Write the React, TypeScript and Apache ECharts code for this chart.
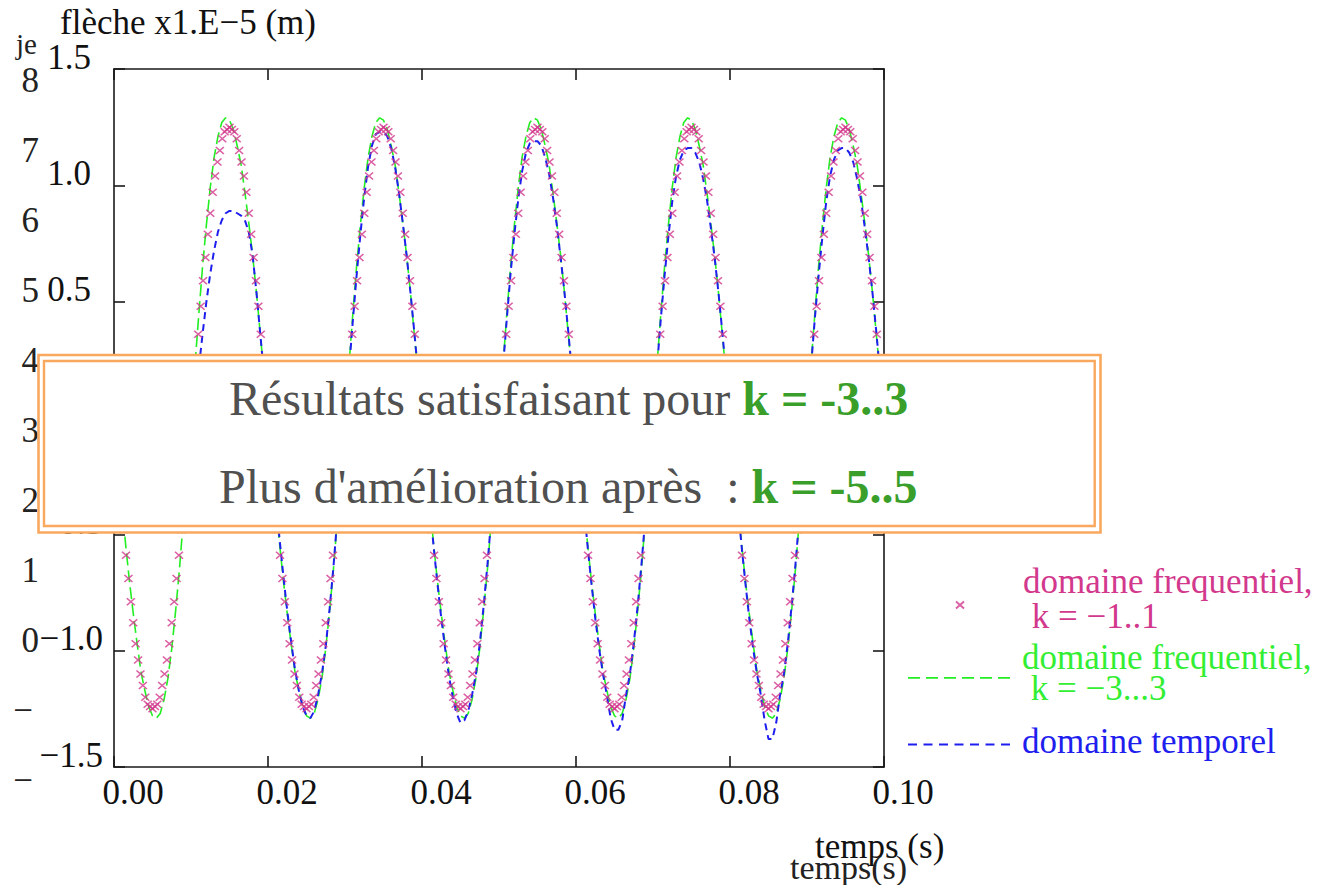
import React, { useEffect, useRef } from "react";
import * as echarts from "echarts";

// ---------- DATA ----------
// sampling steps (s) of the curves
const LINE_STEP = 0.0005;
const MARKER_STEP = 0.0003125;

// domaine frequentiel, k = -3...3 (green dashed line), x1.E-5 m
const GREEN_K3 = [
  0, -0.18, -0.36, -0.54, -0.70, -0.84, -0.97, -1.09, -1.17, -1.24, -1.28, -1.29, -1.27, -1.21, -1.12, -0.99, -0.83, -0.65, -0.44, -0.22, 0, 0.22, 0.44, 0.65, 0.83, 0.99, 1.12, 1.21, 1.27, 1.29, 1.28, 1.24, 1.17, 1.09, 0.97, 0.84, 0.70, 0.54, 0.36, 0.18,
  0, -0.18, -0.36, -0.54, -0.70, -0.84, -0.97, -1.09, -1.17, -1.24, -1.28, -1.29, -1.27, -1.21, -1.12, -0.99, -0.83, -0.65, -0.44, -0.22, 0, 0.22, 0.44, 0.65, 0.83, 0.99, 1.12, 1.21, 1.27, 1.29, 1.28, 1.24, 1.17, 1.09, 0.97, 0.84, 0.70, 0.54, 0.36, 0.18,
  0, -0.18, -0.36, -0.54, -0.70, -0.84, -0.97, -1.09, -1.17, -1.24, -1.28, -1.29, -1.27, -1.21, -1.12, -0.99, -0.83, -0.65, -0.44, -0.22, 0, 0.22, 0.44, 0.65, 0.83, 0.99, 1.12, 1.21, 1.27, 1.29, 1.28, 1.24, 1.17, 1.09, 0.97, 0.84, 0.70, 0.54, 0.36, 0.18,
  0, -0.18, -0.36, -0.54, -0.70, -0.84, -0.97, -1.09, -1.17, -1.24, -1.28, -1.29, -1.27, -1.21, -1.12, -0.99, -0.83, -0.65, -0.44, -0.22, 0, 0.22, 0.44, 0.65, 0.83, 0.99, 1.12, 1.21, 1.27, 1.29, 1.28, 1.24, 1.17, 1.09, 0.97, 0.84, 0.70, 0.54, 0.36, 0.18,
  0, -0.18, -0.36, -0.54, -0.70, -0.84, -0.97, -1.09, -1.17, -1.24, -1.28, -1.29, -1.27, -1.21, -1.12, -0.99, -0.83, -0.65, -0.44, -0.22, 0, 0.22, 0.44, 0.65, 0.83, 0.99, 1.12, 1.21, 1.27, 1.29, 1.28, 1.24, 1.17, 1.09, 0.97, 0.84, 0.70, 0.54, 0.36, 0.18,
  0,
];

// domaine temporel (blue dashed line)
const BLUE_TEMPOREL = [
  0, -0.02, -0.06, -0.10, -0.15, -0.20, -0.25, -0.28, -0.30, -0.30, -0.28, -0.25, -0.22, -0.20, -0.19, -0.18, -0.16, -0.13, -0.09, -0.04, 0.02, 0.08, 0.21, 0.36, 0.50, 0.62, 0.72, 0.80, 0.85, 0.88, 0.89, 0.89, 0.88, 0.87, 0.85, 0.80, 0.70, 0.54, 0.36, 0.18,
  0, -0.17, -0.35, -0.52, -0.68, -0.83, -0.96, -1.08, -1.17, -1.24, -1.28, -1.29, -1.26, -1.19, -1.10, -0.98, -0.82, -0.64, -0.43, -0.21, 0, 0.20, 0.41, 0.61, 0.79, 0.95, 1.08, 1.17, 1.22, 1.23, 1.23, 1.21, 1.16, 1.08, 0.97, 0.84, 0.70, 0.54, 0.37, 0.19,
  0, -0.18, -0.37, -0.55, -0.71, -0.86, -0.99, -1.11, -1.20, -1.27, -1.31, -1.30, -1.26, -1.19, -1.10, -0.97, -0.81, -0.63, -0.43, -0.21, 0, 0.21, 0.42, 0.62, 0.79, 0.94, 1.06, 1.14, 1.18, 1.19, 1.19, 1.17, 1.12, 1.05, 0.95, 0.83, 0.69, 0.54, 0.37, 0.19,
  0, -0.18, -0.37, -0.55, -0.71, -0.86, -0.99, -1.10, -1.19, -1.29, -1.34, -1.34, -1.30, -1.19, -1.10, -0.97, -0.81, -0.63, -0.43, -0.21, 0, 0.21, 0.42, 0.61, 0.78, 0.93, 1.04, 1.11, 1.15, 1.16, 1.16, 1.14, 1.10, 1.03, 0.94, 0.82, 0.69, 0.54, 0.37, 0.19,
  0, -0.18, -0.37, -0.55, -0.71, -0.86, -0.99, -1.10, -1.19, -1.30, -1.38, -1.38, -1.31, -1.19, -1.10, -0.97, -0.81, -0.63, -0.43, -0.21, 0, 0.21, 0.42, 0.61, 0.78, 0.93, 1.04, 1.11, 1.15, 1.16, 1.16, 1.14, 1.10, 1.03, 0.94, 0.82, 0.69, 0.54, 0.37, 0.19,
  0,
];

// domaine frequentiel, k = -1..1 (magenta "x" markers)
const MAGENTA_K1 = [
  0, -0.12, -0.24, -0.36, -0.48, -0.59, -0.69, -0.79, -0.88, -0.97, -1.04, -1.10, -1.15, -1.20, -1.23, -1.24, -1.25, -1.24, -1.23, -1.20, -1.15, -1.10, -1.04, -0.97, -0.88, -0.79, -0.69, -0.59, -0.48, -0.36, -0.24, -0.12, 0, 0.12, 0.24, 0.36, 0.48, 0.59, 0.69, 0.79, 0.88, 0.97, 1.04, 1.10, 1.15, 1.20, 1.23, 1.24, 1.25, 1.24, 1.23, 1.20, 1.15, 1.10, 1.04, 0.97, 0.88, 0.79, 0.69, 0.59, 0.48, 0.36, 0.24, 0.12,
  0, -0.12, -0.24, -0.36, -0.48, -0.59, -0.69, -0.79, -0.88, -0.97, -1.04, -1.10, -1.15, -1.20, -1.23, -1.24, -1.25, -1.24, -1.23, -1.20, -1.15, -1.10, -1.04, -0.97, -0.88, -0.79, -0.69, -0.59, -0.48, -0.36, -0.24, -0.12, 0, 0.12, 0.24, 0.36, 0.48, 0.59, 0.69, 0.79, 0.88, 0.97, 1.04, 1.10, 1.15, 1.20, 1.23, 1.24, 1.25, 1.24, 1.23, 1.20, 1.15, 1.10, 1.04, 0.97, 0.88, 0.79, 0.69, 0.59, 0.48, 0.36, 0.24, 0.12,
  0, -0.12, -0.24, -0.36, -0.48, -0.59, -0.69, -0.79, -0.88, -0.97, -1.04, -1.10, -1.15, -1.20, -1.23, -1.24, -1.25, -1.24, -1.23, -1.20, -1.15, -1.10, -1.04, -0.97, -0.88, -0.79, -0.69, -0.59, -0.48, -0.36, -0.24, -0.12, 0, 0.12, 0.24, 0.36, 0.48, 0.59, 0.69, 0.79, 0.88, 0.97, 1.04, 1.10, 1.15, 1.20, 1.23, 1.24, 1.25, 1.24, 1.23, 1.20, 1.15, 1.10, 1.04, 0.97, 0.88, 0.79, 0.69, 0.59, 0.48, 0.36, 0.24, 0.12,
  0, -0.12, -0.24, -0.36, -0.48, -0.59, -0.69, -0.79, -0.88, -0.97, -1.04, -1.10, -1.15, -1.20, -1.23, -1.24, -1.25, -1.24, -1.23, -1.20, -1.15, -1.10, -1.04, -0.97, -0.88, -0.79, -0.69, -0.59, -0.48, -0.36, -0.24, -0.12, 0, 0.12, 0.24, 0.36, 0.48, 0.59, 0.69, 0.79, 0.88, 0.97, 1.04, 1.10, 1.15, 1.20, 1.23, 1.24, 1.25, 1.24, 1.23, 1.20, 1.15, 1.10, 1.04, 0.97, 0.88, 0.79, 0.69, 0.59, 0.48, 0.36, 0.24, 0.12,
  0, -0.12, -0.24, -0.36, -0.48, -0.59, -0.69, -0.79, -0.88, -0.97, -1.04, -1.10, -1.15, -1.20, -1.23, -1.24, -1.25, -1.24, -1.23, -1.20, -1.15, -1.10, -1.04, -0.97, -0.88, -0.79, -0.69, -0.59, -0.48, -0.36, -0.24, -0.12, 0, 0.12, 0.24, 0.36, 0.48, 0.59, 0.69, 0.79, 0.88, 0.97, 1.04, 1.10, 1.15, 1.20, 1.23, 1.24, 1.25, 1.24, 1.23, 1.20, 1.15, 1.10, 1.04, 0.97, 0.88, 0.79, 0.69, 0.59, 0.48, 0.36, 0.24, 0.12,
  0,
];

// tick labels
const X_TICKS = [0, 0.02, 0.04, 0.06, 0.08, 0.1];
const X_TICK_LABELS = ["0.00", "0.02", "0.04", "0.06", "0.08", "0.10"];
const Y_TICKS = [-1.5, -1.0, -0.5, 0, 0.5, 1.0, 1.5];
const Y_TICK_LABELS = ["\u22121.5", "\u22121.0", "\u22120.5", "0.0", "0.5", "1.0", "1.5"];
// labels of the partly covered axis of the slide underneath
const GHOST_TICKS = [-2, -1, 0, 1, 2, 3, 4, 5, 6, 7, 8];
const GHOST_TICK_LABELS = ["\u2212", "\u2212", "0", "1", "2", "3", "4", "5", "6", "7", "8"];

// texts
const NAME_MAG = "domaine frequentiel,\n k = \u22121..1";
const NAME_GREEN = "domaine frequentiel,\n k = \u22123...3";
const NAME_BLUE = "domaine temporel";
const Y_NAME = "fl\u00e8che x1.E\u22125 (m)";
const X_NAME = "temps (s)";
const X_NAME_GHOST = "temps(s)";
const BOX_LINE1 = ["R\u00e9sultats satisfaisant pour ", "k = -3..3"];
const BOX_LINE2 = ["Plus d'am\u00e9lioration apr\u00e8s  : ", "k = -5..5"];

// ---------- STYLE ----------
const FONT = "Liberation Serif";
const C_MAG = "#d2388c";
const C_GREEN = "#22ee22";
const C_GREEN_TXT = "#33ee33";
const C_BLUE = "#1e1eee";
const C_AXIS = "#1a1a1a";
const C_ORANGE = "#f9a85e";
const C_BOX_TXT = "#505050";
const C_BOX_K = "#3a9f2a";

// legend icons (pure styling): dashes as thin rectangles, offset inside their box
function dashIcon(starts: number[], len: number, y: number, th: number, w: number, h: number): string {
  let d = "path://M0,0L0,0M" + w + "," + h + "L" + w + "," + h;
  for (const s of starts) {
    d += "M" + s + "," + y + "L" + (s + len) + "," + y + "L" + (s + len) + "," + (y + th) + "L" + s + "," + (y + th) + "Z";
  }
  return d;
}
const ICON_MAG = "path://M0,0L0,0M0,12L8,19M8,12L0,19";
const ICON_GREEN = dashIcon([0, 18, 36, 54, 72, 90], 12, 12, 1.7, 102, 16);
const ICON_BLUE = dashIcon([0, 15.5, 31, 46.5, 62, 77.5, 93], 9, 10, 2, 102, 16);

function lookup(ticks: number[], labels: string[], v: number): string {
  for (let i = 0; i < ticks.length; i++) {
    if (Math.abs(ticks[i] - v) < 1e-6) return labels[i];
  }
  return "";
}

function measure(text: string, weight: string, size: number): number {
  const c = document.createElement("canvas").getContext("2d");
  if (!c) return text.length * size * 0.45;
  c.font = weight + " " + size + "px '" + FONT + "'";
  return c.measureText(text).width;
}

function textEl(text: string, x: number, y: number, size: number, fill: string): any {
  return {
    type: "text",
    z: 50,
    x,
    y,
    style: { text, fontFamily: FONT, fontSize: size, fill, align: "left", verticalAlign: "middle" },
  };
}

// the two lines written over the chart, as title components (rich text)
function boxTitle(parts: string[], cx: number, cy: number): any {
  const w = measure(parts[0], "normal", 48) + measure(parts[1], "bold", 48);
  return {
    text: "{a|" + parts[0] + "}{b|" + parts[1] + "}",
    left: Math.round(cx - w / 2),
    top: cy - 24,
    padding: 0,
    z: 120,
    zlevel: 0,
    textStyle: {
      fontFamily: FONT,
      fontSize: 48,
      lineHeight: 48,
      rich: {
        a: { fontFamily: FONT, fontSize: 48, lineHeight: 48, fontWeight: "normal", color: C_BOX_TXT },
        b: { fontFamily: FONT, fontSize: 48, lineHeight: 48, fontWeight: "bold", color: C_BOX_K },
      },
    },
  };
}

export default function App() {
  const ref = useRef<HTMLDivElement>(null);

  useEffect(() => {
    if (!ref.current) return;
    const chart = echarts.init(ref.current, undefined, { renderer: "svg" });

    const greenData = GREEN_K3.map((v, i) => [i * LINE_STEP, v]);
    const blueData = BLUE_TEMPOREL.map((v, i) => [i * LINE_STEP, v]);
    const magData = MAGENTA_K1.map((v, i) => [i * MARKER_STEP, v]);

    const axisLine = { show: true, onZero: false, lineStyle: { color: C_AXIS, width: 1.6 } };
    const axisTick = { show: true, inside: true, length: 11, lineStyle: { color: C_AXIS, width: 1.6 } };

    const option: any = {
      animation: false,
      backgroundColor: "#ffffff",
      title: [boxTitle(BOX_LINE1, 569, 398), boxTitle(BOX_LINE2, 568, 486)],
      grid: [
        { left: 114, right: 450, top: 69, bottom: 118, containLabel: false },
        { left: 48, right: 300, top: 80, bottom: 105, containLabel: false },
      ],
      xAxis: [
        {
          gridIndex: 0,
          type: "value",
          position: "bottom",
          min: 0,
          max: 0.1,
          interval: 0.02,
          axisLine,
          axisTick,
          splitLine: { show: false },
          axisLabel: {
            fontFamily: FONT,
            fontSize: 35,
            color: "#111",
            margin: 8,
            padding: [0, 0, 0, 38],
            formatter: (v: number) => lookup(X_TICKS, X_TICK_LABELS, v),
          },
        },
        {
          gridIndex: 0,
          type: "value",
          position: "top",
          min: 0,
          max: 0.1,
          interval: 0.02,
          axisLine,
          axisTick,
          splitLine: { show: false },
          axisLabel: { show: false },
        },
        {
          gridIndex: 1,
          type: "value",
          min: 0,
          max: 1,
          show: false,
        },
      ],
      yAxis: [
        {
          gridIndex: 0,
          type: "value",
          position: "left",
          min: -1.5,
          max: 1.5,
          interval: 0.5,
          axisLine,
          axisTick,
          splitLine: { show: false },
          axisLabel: {
            fontFamily: FONT,
            fontSize: 35,
            color: "#111",
            margin: 11,
            padding: [0, 0, 24, 0],
            formatter: (v: number) => {
              const s = lookup(Y_TICKS, Y_TICK_LABELS, v);
              return v < -1e-9 ? "{n|" + s + "}" : "{p|" + s + "}";
            },
            rich: {
              p: { fontFamily: FONT, fontSize: 35, color: "#111", padding: [0, 12, 0, 0] },
              n: { fontFamily: FONT, fontSize: 35, color: "#111" },
            },
          },
          name: Y_NAME,
          nameLocation: "end",
          nameGap: 47,
          nameTextStyle: {
            fontFamily: FONT,
            fontSize: 35,
            color: "#111",
            align: "center",
            verticalAlign: "middle",
            padding: [0, 0, 0, 148],
          },
        },
        {
          gridIndex: 0,
          type: "value",
          position: "right",
          min: -1.5,
          max: 1.5,
          interval: 0.5,
          axisLine,
          axisTick,
          splitLine: { show: false },
          axisLabel: { show: false },
        },
        {
          gridIndex: 1,
          type: "value",
          position: "left",
          min: -2,
          max: 8,
          interval: 1,
          axisLine: { show: false },
          axisTick: { show: false },
          splitLine: { show: false },
          axisLabel: {
            fontFamily: FONT,
            fontSize: 35,
            color: "#222",
            margin: 9,
            formatter: (v: number) => {
              const s = lookup(GHOST_TICKS, GHOST_TICK_LABELS, v);
              return v < 0 ? "{n|" + s + "}" : "{p|" + s + "}";
            },
            rich: {
              p: { fontFamily: FONT, fontSize: 35, color: "#222" },
              n: { fontFamily: FONT, fontSize: 35, color: "#222", padding: [0, 6, 0, 0] },
            },
          },
        },
      ],
      legend: [
        {
          data: [{ name: NAME_MAG }],
          icon: ICON_MAG,
          left: 955,
          top: 564,
          padding: 0,
          itemWidth: 8,
          itemHeight: 19,
          selectedMode: false,
          textStyle: {
            fontFamily: FONT,
            fontSize: 35,
            lineHeight: 35,
            color: C_MAG,
            padding: [0, 0, 0, 54],
          },
        },
        {
          data: [{ name: NAME_GREEN }],
          icon: ICON_GREEN,
          left: 908,
          top: 640,
          padding: 0,
          itemWidth: 102,
          itemHeight: 16,
          selectedMode: false,
          itemStyle: { color: C_GREEN, borderWidth: 0 },
          textStyle: {
            fontFamily: FONT,
            fontSize: 35,
            lineHeight: 31,
            color: C_GREEN_TXT,
            padding: [0, 0, 0, 7],
          },
        },
        {
          data: [{ name: NAME_BLUE }],
          icon: ICON_BLUE,
          left: 908,
          top: 724,
          padding: 0,
          itemWidth: 102,
          itemHeight: 16,
          selectedMode: false,
          itemStyle: { color: C_BLUE, borderWidth: 0 },
          textStyle: {
            fontFamily: FONT,
            fontSize: 35,
            lineHeight: 34,
            color: C_BLUE,
            padding: [0, 0, 0, 7],
          },
        },
      ],
      series: [
        {
          name: NAME_GREEN,
          type: "line",
          xAxisIndex: 0,
          yAxisIndex: 0,
          data: greenData,
          symbol: "none",
          showSymbol: false,
          lineStyle: { color: C_GREEN, width: 1.6, type: [12, 5] },
          itemStyle: { color: C_GREEN },
          z: 2,
        },
        {
          name: NAME_BLUE,
          type: "line",
          xAxisIndex: 0,
          yAxisIndex: 0,
          data: blueData,
          symbol: "none",
          showSymbol: false,
          lineStyle: { color: C_BLUE, width: 2, type: [7, 5] },
          itemStyle: { color: C_BLUE },
          z: 3,
        },
        {
          name: NAME_MAG,
          type: "scatter",
          xAxisIndex: 0,
          yAxisIndex: 0,
          data: magData,
          symbol: "path://M0,0L10,9M10,0L0,9",
          symbolSize: [8, 7],
          itemStyle: { color: "rgba(0,0,0,0)", borderColor: C_MAG, borderWidth: 1.5 },
          z: 4,
        },
      ],
      graphic: [
        textEl("je", 16, 44, 29, "#222"),
        textEl(X_NAME, 815, 846, 35, "#111"),
        textEl(X_NAME_GHOST, 790, 867, 34, "#222"),
        {
          type: "rect",
          z: 100,
          shape: { x: 38.5, y: 355, width: 1062, height: 177.5 },
          style: { fill: "#ffffff", stroke: C_ORANGE, lineWidth: 2.6 },
        },
        {
          type: "rect",
          z: 101,
          shape: { x: 44, y: 361, width: 1050.7, height: 165 },
          style: { fill: "none", stroke: C_ORANGE, lineWidth: 2.4 },
        },
      ],
    };

    chart.setOption(option);
    return () => {
      chart.dispose();
    };
  }, []);

  return (
    <div
      ref={ref}
      style={{ position: "fixed", left: 0, top: 0, width: 1334, height: 885, background: "#ffffff" }}
    />
  );
}
